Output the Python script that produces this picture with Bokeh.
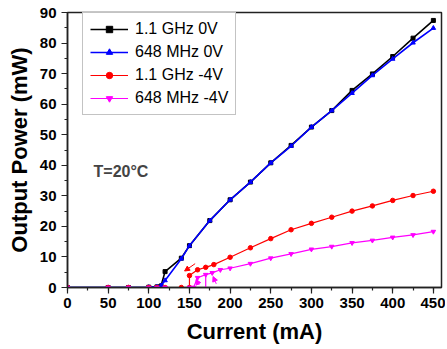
from bokeh.plotting import figure
from bokeh.models import Range1d, SingleIntervalTicker, Label, Arrow, NormalHead
from bokeh.embed import file_html
from bokeh.resources import INLINE

# Data (mA, mW)
black_x = [0, 50, 75, 100, 110, 115, 120, 140, 150, 175, 200, 225, 250, 275, 300, 325, 350, 375, 400, 425, 450]
black_y = [0, 0, 0, 0.1, 0.2, 0.5, 5.2, 9.6, 13.7, 21.9, 28.7, 34.5, 40.8, 46.5, 52.5, 57.9, 64.5, 69.9, 75.6, 81.6, 87.4]
blue_x = [0, 50, 75, 100, 110, 115, 120, 140, 150, 175, 200, 225, 250, 275, 300, 325, 350, 375, 400, 425, 450]
blue_y = [0, 0, 0, 0.1, 0.2, 0.6, 2.3, 9.4, 13.7, 21.9, 28.7, 34.5, 40.8, 46.3, 52.5, 57.9, 63.6, 69.4, 74.8, 80.1, 84.9]
red_x = [0, 50, 75, 100, 110, 120, 140, 150, 150, 160, 170, 180, 200, 225, 250, 275, 300, 325, 350, 375, 400, 425, 450]
red_y = [0, 0, 0, 0, 0, 0, 0, 0, 3.9, 5.8, 6.6, 7.5, 9.9, 13.0, 16.0, 18.9, 21.0, 23.0, 25.0, 26.7, 28.5, 30.1, 31.5]
mag_x = [0, 50, 75, 100, 110, 120, 150, 155, 160, 170, 178, 188, 200, 225, 250, 275, 300, 325, 350, 375, 400, 425, 450]
mag_y = [0, 0, 0, 0, 0, 0, 0, 0, 3.2, 4.2, 4.8, 5.8, 6.3, 7.8, 9.6, 11.0, 12.5, 13.4, 14.6, 15.4, 16.4, 17.2, 18.3]
mag_jump_x = [155, 170, 170]
mag_jump_y = [0, 0, 4.2]
# hysteresis arrows: (x_start, y_start, x_end, y_end)
red_arrows = [(157, 7.8, 144, 5.4)]
mag_arrows = [(183, 1.2, 179, 3.6), (162, 0.8, 158, 2.6)]

FONT = "Liberation Sans"

p = figure(width=445, height=347, output_backend="svg", toolbar_location=None,
           x_range=Range1d(0, 460), y_range=Range1d(0, 90),
           min_border_left=67, min_border_right=4, min_border_top=12, min_border_bottom=60)
p.background_fill_color = "white"
p.border_fill_color = "white"
p.outline_line_color = "#222222"
p.outline_line_width = 1.5
p.grid.visible = False

p.xaxis.ticker = SingleIntervalTicker(interval=50, num_minor_ticks=2)
p.yaxis.ticker = SingleIntervalTicker(interval=10, num_minor_ticks=2)
for ax in (p.xaxis[0], p.yaxis[0]):
    ax.axis_line_color = "#222222"
    ax.axis_line_width = 1.5
    ax.major_tick_line_color = "#222222"
    ax.minor_tick_line_color = "#222222"
    ax.major_tick_line_width = 1.2
    ax.minor_tick_line_width = 1.2
    ax.major_tick_out = 6
    ax.major_tick_in = 0
    ax.minor_tick_out = 3
    ax.minor_tick_in = 0
    ax.major_label_text_font = FONT
    ax.major_label_text_font_style = "bold"
    ax.major_label_text_font_size = "15px"
    ax.major_label_text_color = "black"
    ax.axis_label_text_font = FONT
    ax.axis_label_text_font_style = "bold"
    ax.axis_label_text_font_size = "22px"
    ax.axis_label_text_color = "black"
p.xaxis.axis_label = "Current (mA)"
p.yaxis.axis_label = "Output Power (mW)"
p.xaxis.axis_label_standoff = 8
p.yaxis.axis_label_standoff = 5
p.xaxis.major_label_standoff = 4
p.yaxis.major_label_standoff = 5

p.line(mag_jump_x, mag_jump_y, color="#ff00ff", line_width=1.2)
series = [
    (black_x, black_y, "black", "square", "1.1 GHz 0V", 4),
    (blue_x, blue_y, "#0000ff", "triangle", "648 MHz 0V", 4.5),
    (red_x, red_y, "#ff0000", "circle", "1.1 GHz -4V", 4.5),
    (mag_x, mag_y, "#ff00ff", "inverted_triangle", "648 MHz -4V", 4.5),
]
for xs, ys, c, m, lab, s in series:
    lw = 1.6 if c in ("black", "#0000ff") else 1.2
    p.line(xs, ys, color=c, line_width=lw, legend_label=lab)
    p.scatter(xs, ys, marker=m, size=s, color=c, legend_label=lab)

for (x0, y0, x1, y1) in red_arrows:
    p.add_layout(Arrow(x_start=x0, y_start=y0, x_end=x1, y_end=y1, line_color="#ff0000", line_width=1,
                       end=NormalHead(size=5, fill_color="#ff0000", line_color="#ff0000")))
for (x0, y0, x1, y1) in mag_arrows:
    p.add_layout(Arrow(x_start=x0, y_start=y0, x_end=x1, y_end=y1, line_color="#ff00ff", line_width=1,
                       end=NormalHead(size=5, fill_color="#ff00ff", line_color="#ff00ff")))

p.add_layout(Label(x=32, y=38, text="T=20°C", text_font=FONT, text_font_style="bold",
                   text_font_size="16px", text_align="left", text_baseline="middle"))

lg = p.legend[0]
lg.location = (15, 172)
lg.margin = 0
lg.label_text_font = FONT
lg.label_text_font_size = "16px"
lg.label_text_color = "black"
lg.glyph_width = 38
lg.glyph_height = 16
lg.label_height = 16
lg.spacing = 5
lg.padding = 7
lg.label_standoff = 7
lg.border_line_color = "#888888"
lg.border_line_width = 1
lg.background_fill_alpha = 1

open("out.html", "w").write(file_html(p, INLINE))
